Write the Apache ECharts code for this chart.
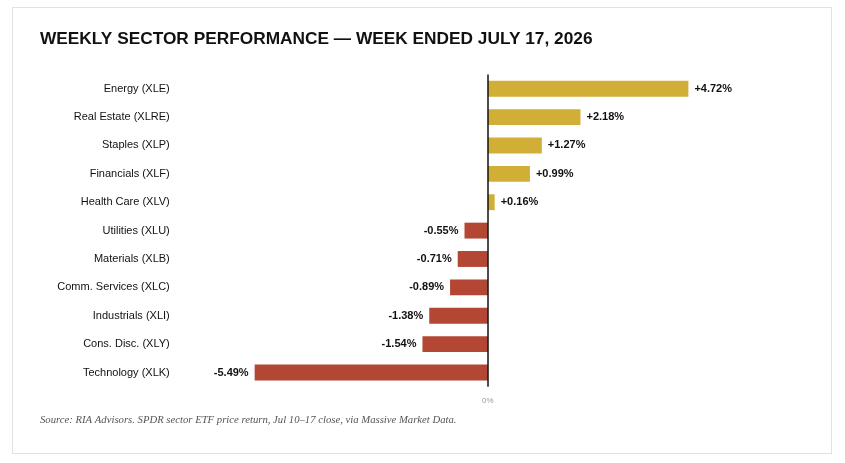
<!DOCTYPE html>
<html>
<head>
<meta charset="utf-8">
<script src="https://cdn.jsdelivr.net/npm/echarts@6/dist/echarts.min.js"></script>
<style>
html,body{margin:0;padding:0;background:#fff;}
#frame{position:absolute;left:12px;top:7px;width:820px;height:447px;border:1px solid #e2e2e2;box-sizing:border-box;}
#chart{position:absolute;left:0;top:0;width:845px;height:463px;}
</style>
</head>
<body>
<div id="frame"></div>
<div id="chart"></div>
<script>
const categories = ['Energy (XLE)','Real Estate (XLRE)','Staples (XLP)','Financials (XLF)','Health Care (XLV)','Utilities (XLU)','Materials (XLB)','Comm. Services (XLC)','Industrials (XLI)','Cons. Disc. (XLY)','Technology (XLK)'];
const values = [4.72, 2.18, 1.27, 0.99, 0.16, -0.55, -0.71, -0.89, -1.38, -1.54, -5.49];
const titleText = 'WEEKLY SECTOR PERFORMANCE \u2014 WEEK ENDED JULY 17, 2026';
const sourceText = 'Source: RIA Advisors. SPDR sector ETF price return, Jul 10\u201317 close, via Massive Market Data.';
const zeroTickLabel = '0%';

const GOLD = '#d1ae36';
const RED = '#b34733';

const chart = echarts.init(document.getElementById('chart'), null, {renderer:'canvas'});
chart.setOption({
  animation:false,
  title:{
    text:titleText, left:35, top:25.5,
    textStyle:{fontFamily:'Liberation Sans, Arial, sans-serif', fontSize:17.3, fontWeight:'bold', color:'#111'}
  },
  graphic:[{
    type:'text', left:40, top:414.5,
    style:{text:sourceText, font:'italic 10.7px "Liberation Serif", Georgia, serif', fill:'#555'}
  }],
  grid:{left:177.75, right:845-764, top:74.5, bottom:463-386.7, containLabel:false},
  xAxis:{
    type:'value', min:-7.3, max:6.5,
    splitLine:{show:false}, axisLine:{show:false}, axisTick:{show:false},
    axisLabel:{show:false}
  },
  yAxis:{
    type:'category', data:categories, inverse:true,
    axisLine:{show:false}, axisTick:{show:false},
    axisLabel:{fontFamily:'Liberation Sans, Arial, sans-serif', fontSize:11, color:'#111', margin:8}
  },
  series:[{
    type:'bar',
    data:values.map(v=>({value:v, itemStyle:{color: v>=0?GOLD:RED},
      label:{position: v>=0?'right':'left'}})),
    barWidth:'56%',
    label:{
      show:true, distance:6,
      fontFamily:'Liberation Sans, Arial, sans-serif', fontSize:11, fontWeight:'bold', color:'#111',
      formatter:p=>(p.value>0?'+':'')+p.value.toFixed(2)+'%'
    },
    markLine:{
      silent:true, symbol:'none',
      lineStyle:{color:'#111', width:1.5, type:'solid'},
      label:{show:true, position:'end', formatter:zeroTickLabel, color:'#999', fontSize:8, fontFamily:'Liberation Sans, Arial, sans-serif', distance:10},
      data:[{xAxis:0}]
    }
  }]
});
</script>
</body>
</html>
